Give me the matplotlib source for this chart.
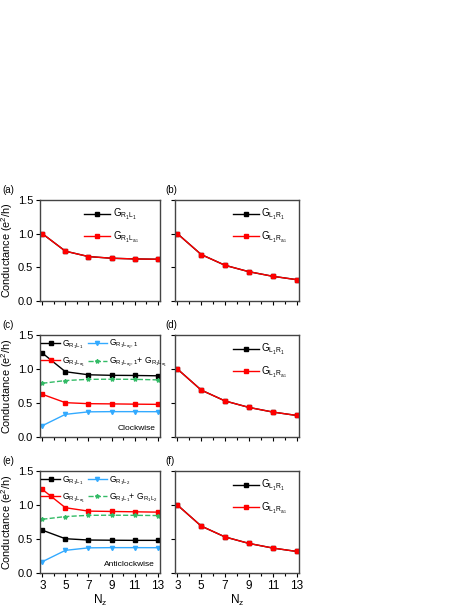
import numpy as np
import matplotlib
matplotlib.use('Agg')
import matplotlib.pyplot as plt
from matplotlib.ticker import MultipleLocator

plt.rcParams['font.family'] = ['Liberation Sans', 'DejaVu Sans']
plt.rcParams['mathtext.fontset'] = 'custom'
plt.rcParams['mathtext.rm'] = 'Liberation Sans'
plt.rcParams['mathtext.it'] = 'Liberation Sans:italic'
plt.rcParams['mathtext.default'] = 'regular'

# Data
nz = [3, 5, 7, 9, 11, 13]

# (a)
a_r1l1 = [1.0, 0.74, 0.66, 0.635, 0.625, 0.62]
a_r1la1 = [1.0, 0.74, 0.66, 0.635, 0.625, 0.62]
# (b), (d), (f)
b_l1r1 = [1.0, 0.69, 0.53, 0.435, 0.367, 0.317]
b_l1ra1 = [1.0, 0.69, 0.53, 0.435, 0.367, 0.317]
# (c) clockwise
c_black = [1.235, 0.96, 0.915, 0.907, 0.905, 0.90]
c_red = [0.628, 0.505, 0.49, 0.487, 0.483, 0.48]
c_blue = [0.166, 0.333, 0.37, 0.373, 0.373, 0.372]
c_green = [0.79, 0.83, 0.848, 0.85, 0.848, 0.84]
# (e) anticlockwise
e_red = [1.23, 0.96, 0.91, 0.905, 0.90, 0.895]
e_black = [0.63, 0.504, 0.485, 0.482, 0.48, 0.48]
e_blue = [0.166, 0.333, 0.37, 0.373, 0.373, 0.372]
e_green = [0.79, 0.83, 0.848, 0.85, 0.848, 0.845]

RED = '#ff0000'
BLUE = '#33aaff'
GREEN = '#33bb66'
SPINE = '#444444'

fig = plt.figure(figsize=(4.69, 6.07), dpi=100)
W, H = 469, 607


def make_axes(left, right, top, bottom):
    return fig.add_axes([left / W, 1 - bottom / H, (right - left) / W, (bottom - top) / H])


def style(ax, left_col, bottom_row):
    ax.set_xlim(2.8, 13.2)
    ax.set_ylim(0, 1.5)
    ax.xaxis.set_minor_locator(MultipleLocator(1))
    ax.set_xticks(nz)
    ax.yaxis.set_major_locator(MultipleLocator(0.5))
    ax.tick_params(direction='out', length=3, width=0.8, colors='black', labelsize=8, pad=2)
    ax.tick_params(axis='x', labelsize=8.5)
    ax.tick_params(which='minor', direction='out', length=1.8, width=0.8)
    for s in ax.spines.values():
        s.set_color(SPINE)
        s.set_linewidth(1.0)
    if left_col:
        ax.set_ylabel('Conductance (e$^2$/h)', fontsize=7.8, labelpad=2)
    else:
        ax.tick_params(labelleft=False)
    if bottom_row:
        ax.set_xlabel('N$_z$', fontsize=8.5, labelpad=1)
    else:
        ax.tick_params(labelbottom=False)


kw = dict(lw=1.0, ms=3.0)

rows = [(200, 301), (335, 437), (471, 573)]
labels = [('(a)', '(b)'), ('(c)', '(d)'), ('(e)', '(f)')]
axes = []
for i, (top, bottom) in enumerate(rows):
    axl = make_axes(40, 160, top, bottom)
    axr = make_axes(175, 299, top, bottom)
    style(axl, True, i == 2)
    style(axr, False, i == 2)
    fig.text(2 / W, 1 - (top - 5) / H, labels[i][0], fontsize=7, va='bottom')
    fig.text(165 / W, 1 - (top - 5) / H, labels[i][1], fontsize=7, va='bottom')
    axes.append((axl, axr))

leg_kw = dict(frameon=False, fontsize=7, handlelength=2.6, handletextpad=0.3,
              borderpad=0, borderaxespad=0, labelspacing=0.7)

# (a)
ax = axes[0][0]
ax.plot(nz, a_r1l1, '-s', color='black', label='G$_{R_1L_1}$', **kw)
ax.plot(nz, a_r1la1, '-s', color=RED, label='G$_{R_1L_{a_1}}$', **kw)
ax.legend(loc='upper left', bbox_to_anchor=(0.37, 0.93), **leg_kw)

# (b), (d), (f)
for i in range(3):
    ax = axes[i][1]
    ax.plot(nz, b_l1r1, '-s', color='black', label='G$_{L_1R_1}$', **kw)
    ax.plot(nz, b_l1ra1, '-s', color=RED, label='G$_{L_1R_{a_1}}$', **kw)
    ax.legend(loc='upper left', bbox_to_anchor=(0.47, 0.93), **leg_kw)

cd_leg = {**leg_kw, 'handlelength': 2.2, 'labelspacing': 0.55, 'fontsize': 6.2,
          'handletextpad': 0.25}

# (c)
ax = axes[1][0]
ax.plot(nz, c_black, '-s', color='black', label='G$_{R_1L_1}$', **kw)
ax.plot(nz, c_red, '-s', color=RED, label='G$_{R_1L_{a_1}}$', **kw)
ax.plot(nz, c_blue, '-v', color=BLUE, label='G$_{R_1L_{a_2},1}$', **kw)
ax.plot(nz, c_green, '--*', color=GREEN, label='G$_{R_1L_{a_2},1}$+ G$_{R_1L_{a_1}}$', **kw)
ax.legend(loc='upper left', bbox_to_anchor=(0.01, 0.97), ncol=2, columnspacing=0.3, **cd_leg)
ax.text(0.96, 0.05, 'Clockwise', transform=ax.transAxes, ha='right', va='bottom', fontsize=6)

# (e)
ax = axes[2][0]
ax.plot(nz, e_black, '-s', color='black', label='G$_{R_1L_1}$', **kw)
ax.plot(nz, e_red, '-s', color=RED, label='G$_{R_1L_{a_1}}$', **kw)
ax.plot(nz, e_blue, '-v', color=BLUE, label='G$_{R_1L_2}$', **kw)
ax.plot(nz, e_green, '--*', color=GREEN, label='G$_{R_1L_1}$+ G$_{R_1L_2}$', **kw)
ax.legend(loc='upper left', bbox_to_anchor=(0.01, 0.97), ncol=2, columnspacing=0.3, **cd_leg)
ax.text(0.96, 0.05, 'Anticlockwise', transform=ax.transAxes, ha='right', va='bottom', fontsize=6)

fig.savefig('out.png', dpi=100)
